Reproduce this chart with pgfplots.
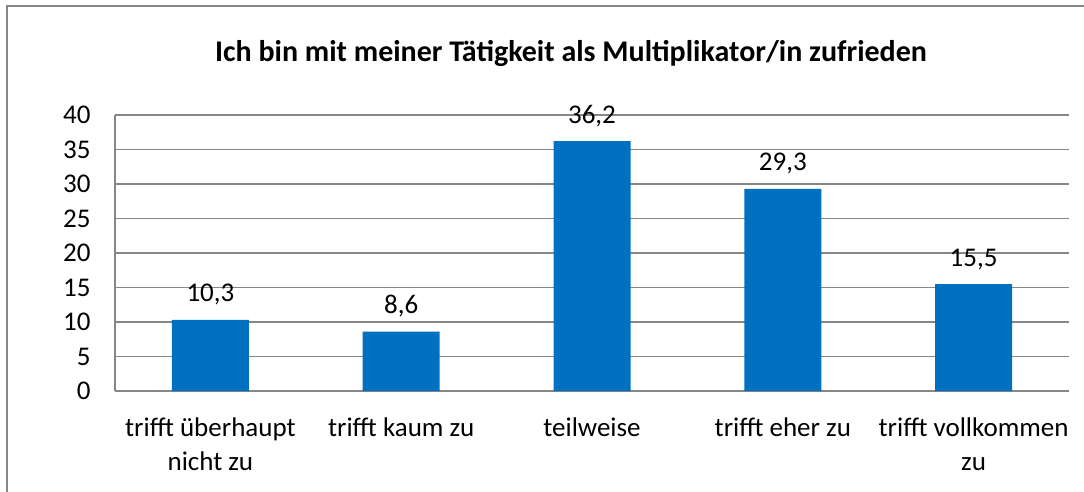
\documentclass[border=0pt]{standalone}
\usepackage{pgfplots}
\pgfplotsset{compat=1.18}
\usepackage{fontspec}
\setmainfont{Carlito}
\definecolor{barblue}{HTML}{0070C0}
\definecolor{gridgray}{HTML}{868686}
\pgfplotstableread{
x y
0 10.3
1 8.6
2 36.2
3 29.3
4 15.5
}\datatable
\begin{document}
\begin{tikzpicture}[x=1pt,y=1pt]
\path[use as bounding box] (0pt,0pt) rectangle (1084pt,491pt);
\draw[gridgray, line width=2.2pt] (7pt,-20pt) -- (7pt,485pt) -- (1110pt,485pt);
\node[font=\fontsize{30}{34}\selectfont\bfseries] at (571pt,438pt) {Ich bin mit meiner Tätigkeit als Multiplikator/in zufrieden};
\begin{axis}[
  at={(115pt,100pt)}, anchor=south west,
  scale only axis, width=954pt, height=276pt,
  xmin=-0.5, xmax=4.5, ymin=0, ymax=40,
  ytick={0,5,...,40},
  xtick=data,
  xticklabels={{trifft überhaupt\\nicht zu},{trifft kaum zu},{teilweise},{trifft eher zu},{trifft vollkommen\\zu}},
  xticklabel style={align=center, font=\fontsize{27}{34}\selectfont, yshift=-23pt},
  yticklabel style={font=\fontsize{27}{30}\selectfont, xshift=-21pt},
  /pgf/number format/assume math mode=true,
  axis x line=bottom, axis y line=left,
  axis line style={-, gridgray, line width=1.4pt},
  major tick length=0pt,
  ymajorgrids, grid style={gridgray, line width=1.4pt},
  ybar, bar width=77pt,
  nodes near coords,
  nodes near coords style={font=\fontsize{27}{30}\selectfont, yshift=11pt, /pgf/number format/use comma, /pgf/number format/fixed, /pgf/number format/fixed zerofill, /pgf/number format/precision=1},
  clip=false,
]
\addplot[fill=barblue, draw=none] table[x=x,y=y] {\datatable};
\end{axis}
\end{tikzpicture}
\end{document}
